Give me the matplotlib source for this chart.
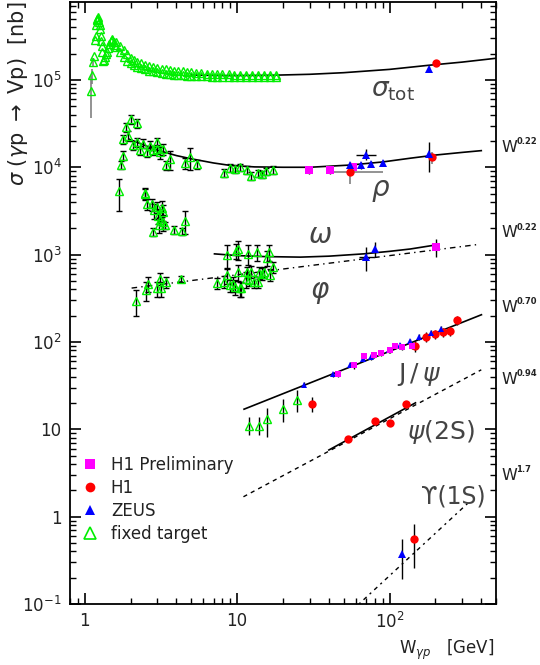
import matplotlib
matplotlib.use("Agg")
import matplotlib.pyplot as plt
from matplotlib.lines import Line2D
from matplotlib.ticker import LogLocator, FixedLocator, FixedFormatter, NullFormatter

# ---------------- total cross section ----------------
tot_ft_w = [1.10, 1.12, 1.13, 1.15, 1.17, 1.18, 1.19, 1.20, 1.21, 1.22, 1.23, 1.24,
            1.25, 1.26, 1.27, 1.28, 1.29, 1.30, 1.32, 1.34, 1.36, 1.38, 1.40, 1.42,
            1.45, 1.48, 1.50, 1.52, 1.55, 1.58]
tot_ft_s = [0.75e5, 1.13e5, 1.6e5, 1.9e5, 2.9e5, 3.2e5, 4.3e5, 4.8e5, 5.0e5, 5.2e5,
            5.0e5, 4.6e5, 4.3e5, 3.8e5, 3.2e5, 2.8e5, 2.46e5, 2.1e5, 1.66e5, 1.7e5,
            1.85e5, 1.97e5, 2.1e5, 2.3e5, 2.6e5, 2.8e5, 2.93e5, 2.85e5, 2.7e5, 2.5e5]
tot_ft_lo = [3.7e4, 0.9e5, 1.45e5]
tot_ft_hi = [1.1e5, 1.35e5, 1.8e5]

band_w = [1.60, 1.70, 1.80, 1.90, 2.00, 2.10, 2.20, 2.35, 2.50, 2.65, 2.80, 3.00,
          3.20, 3.40, 3.60, 3.85, 4.10, 4.40, 4.70, 5.00, 5.40, 5.80, 6.30, 6.80,
          7.40, 8.00, 8.80, 9.60, 10.5, 11.5, 12.5, 13.7, 15.0, 16.5, 18.0]
band_up = [2.75e5, 2.45e5, 2.2e5, 2.0e5, 1.8e5, 1.7e5, 1.62e5, 1.55e5, 1.5e5, 1.45e5,
           1.42e5, 1.38e5, 1.35e5, 1.33e5, 1.3e5, 1.28e5, 1.26e5, 1.25e5, 1.23e5,
           1.22e5, 1.2e5, 1.19e5, 1.18e5, 1.17e5, 1.17e5, 1.16e5, 1.16e5, 1.15e5,
           1.15e5, 1.15e5, 1.14e5, 1.14e5, 1.14e5, 1.14e5, 1.14e5]
band_lo = [2.4e5, 2.1e5, 1.85e5, 1.65e5, 1.55e5, 1.48e5, 1.42e5, 1.36e5, 1.32e5, 1.28e5,
           1.25e5, 1.22e5, 1.2e5, 1.18e5, 1.16e5, 1.15e5, 1.14e5, 1.13e5, 1.12e5,
           1.11e5, 1.1e5, 1.1e5, 1.1e5, 1.09e5, 1.09e5, 1.09e5, 1.09e5, 1.09e5,
           1.09e5, 1.09e5, 1.09e5, 1.09e5, 1.09e5, 1.09e5, 1.09e5]

tot_fit_w = [5, 7, 9, 12, 16.5, 30, 50, 100, 180, 300, 500]
tot_fit_s = [1.14e5, 1.125e5, 1.12e5, 1.125e5, 1.13e5, 1.16e5, 1.21e5, 1.32e5, 1.47e5,
             1.6e5, 1.77e5]

tot_h1_w, tot_h1_s = [201], [1.58e5]
tot_zeus_w, tot_zeus_s = [182], [1.35e5]

# ---------------- rho ----------------
rho_ft_w = [1.68, 1.74, 1.79, 1.77, 1.86, 1.93, 2.00, 2.21, 2.08, 2.19, 2.30, 2.42,
            2.55, 2.68, 2.81, 2.96, 2.96, 3.11, 3.27, 3.41, 3.62, 4.54, 4.90, 5.42,
            8.2, 9.0, 9.7, 10.5, 11.6, 12.3, 13.8, 14.5, 15.4, 17.2]
rho_ft_s = [5.3e3, 1.06e4, 1.36e4, 2.11e4, 2.87e4, 2.3e4, 3.57e4, 3.2e4, 1.8e4, 1.93e4,
            1.58e4, 1.87e4, 1.48e4, 1.77e4, 1.58e4, 1.62e4, 1.93e4, 1.48e4, 1.62e4,
            1.06e4, 1.24e4, 1.11e4, 1.3e4, 1.09e4, 8.6e3, 9.8e3, 9.6e3, 1.0e4, 9.4e3,
            8.0e3, 8.5e3, 8.3e3, 9.0e3, 9.3e3]
rho_ft_err = [0.4, 0.1, 0.12, 0.12, 0.12, 0.12, 0.12, 0.12, 0.12, 0.12, 0.12, 0.12,
              0.12, 0.12, 0.12, 0.12, 0.12, 0.15, 0.15, 0.12, 0.25, 0.15, 0.28, 0.12,
              0.1, 0.1, 0.1, 0.1, 0.1, 0.1, 0.1, 0.1, 0.1, 0.1]

rho_fit_w = [1.95, 2.5, 3, 4, 5, 7, 9, 13, 20, 30, 55, 90, 137, 200, 300, 400]
rho_fit_s = [2.1e4, 1.77e4, 1.57e4, 1.36e4, 1.25e4, 1.12e4, 1.05e4, 1.01e4, 1.0e4,
             1.0e4, 1.06e4, 1.15e4, 1.27e4, 1.38e4, 1.48e4, 1.55e4]

rho_h1p_w = [29.8, 40.9, 57.3]
rho_h1p_s = [9.3e3, 9.3e3, 1.0e4]
rho_h1_w = [54.8, 189]
rho_h1_s = [8.77e3, 1.3e4]
rho_h1_lo = [6.5e3, 1.1e4]
rho_h1_hi = [1.1e4, 1.5e4]
rho_h1_wlo = [43, 185]
rho_h1_whi = [91, 193]
rho_zeus_w = [55.4, 65.4, 70.6, 75.7, 90.8, 182]
rho_zeus_s = [1.05e4, 1.05e4, 1.4e4, 1.09e4, 1.12e4, 1.42e4]
rho_zeus_lo = [9.5e3, 9.5e3, 1.2e4, 1.0e4, 1.03e4, 8.9e3]
rho_zeus_hi = [1.15e4, 1.15e4, 1.6e4, 1.18e4, 1.21e4, 1.97e4]
rho_zeus_wlo = [55.4, 65.4, 60.6, 75.7, 90.8, 175]
rho_zeus_whi = [55.4, 65.4, 81.0, 75.7, 90.8, 190]

# ---------------- omega ----------------
omega_ft_w = [2.48, 2.50, 2.55, 2.75, 2.84, 2.96, 3.04, 3.19, 3.24, 3.11, 3.27, 3.08,
              2.79, 3.36, 3.86, 4.33, 4.54, 8.55, 10.06, 11.7, 13.5, 16.3, 15.6, 9.9]
omega_ft_s = [5.1e3, 4.9e3, 3.8e3, 3.75e3, 3.2e3, 3.5e3, 2.8e3, 3.4e3, 3.05e3, 2.46e3,
              2.35e3, 2.2e3, 1.81e3, 2.16e3, 1.92e3, 1.85e3, 2.45e3, 979, 1.15e3,
              1.02e3, 1.06e3, 1.06e3, 917, 1.1e3]
omega_ft_err = [0.15, 0.15, 0.15, 0.15, 0.2, 0.15, 0.2, 0.2, 0.2, 0.1, 0.2, 0.2, 0.1,
                0.1, 0.1, 0.1, 0.3, 0.3, 0.25, 0.25, 0.2, 0.2, 0.2, 0.2]

omega_fit_w = [7.1, 10, 15, 26, 40, 67.5, 100, 137, 201]
omega_fit_s = [1.02e3, 975, 950, 936, 960, 1.02e3, 1.09e3, 1.16e3, 1.29e3]

omega_zeus_w = [70.6, 80]
omega_zeus_s = [936, 1.16e3]
omega_zeus_lo = [656, 936]
omega_zeus_hi = [1.22e3, 1.39e3]
omega_zeus_wlo = [63, 80]
omega_zeus_whi = [79, 80]
omega_h1p_w, omega_h1p_s = [201], [1.22e3]
omega_h1p_lo, omega_h1p_hi = [936], [1.52e3]

# ---------------- phi ----------------
phi_ft_w = [2.17, 2.52, 2.60, 2.98, 3.11, 3.15, 3.39, 4.28, 7.35, 8.14, 8.55, 9.0,
            9.45, 9.7, 10.1, 10.5, 10.6, 11.4, 11.6, 11.9, 12.3, 12.9, 13.8, 14.0,
            14.5, 14.9, 16.5, 17.3]
phi_ft_s = [294, 390, 464, 410, 529, 410, 485, 529, 472, 490, 578, 444, 464, 430, 631,
            410, 410, 521, 631, 517, 640, 490, 483, 620, 607, 631, 590, 719]
phi_ft_err = [0.33, 0.25, 0.2, 0.2, 0.15, 0.2, 0.15, 0.08, 0.15, 0.15, 0.2, 0.15, 0.2,
              0.2, 0.2, 0.2, 0.2, 0.2, 0.15, 0.15, 0.15, 0.15, 0.15, 0.15, 0.15, 0.15,
              0.15, 0.15]
phi_fit_w = [2.03, 386]
phi_fit_s = [414, 1.31e3]

# ---------------- J/psi ----------------
jpsi_ft_w = [11.9, 14.0, 15.7, 20.0, 24.7]
jpsi_ft_s = [11.0, 11.0, 13.3, 17.3, 21.9]
jpsi_ft_lo = [8.6, 8.6, 8.2, 12.2, 15.8]
jpsi_ft_hi = [13.9, 13.9, 17.6, 22.5, 28.3]

jpsi_h1_w = [31, 148, 174, 198, 224, 249, 276]
jpsi_h1_s = [19.7, 89.3, 115, 124, 130, 132, 177]
jpsi_h1_err = [0.2, 0.15, 0.12, 0.12, 0.12, 0.12, 0.12]
jpsi_zeus_w = [27.6, 42.6, 55.4, 67, 76, 99, 118, 137, 156, 186, 219]
jpsi_zeus_s = [32.5, 42.7, 55, 64.5, 67.4, 80.4, 91.6, 102, 114, 128, 142]
jpsi_h1p_w = [46, 58.2, 68.5, 78.8, 88, 100.5, 109, 121, 141]
jpsi_h1p_s = [42.7, 54, 68.7, 71.6, 75.5, 81.7, 89.3, 87.7, 89.3]
jpsi_fit_w = [11.1, 401]
jpsi_fit_s = [17, 205]

# ---------------- psi(2S) ----------------
psi2s_h1_w = [53.5, 80, 100, 129]
psi2s_h1_s = [7.85, 12.4, 11.9, 19.4]
psi2s_fit_w = [11, 400]
psi2s_fit_s = [1.69, 48]
psi2s_fit_solid_w = [40, 148]
psi2s_fit_solid_s = [5.8, 20.1]

# ---------------- Upsilon ----------------
ups_zeus_w, ups_zeus_s = [120], [0.37]
ups_zeus_lo, ups_zeus_hi = [0.195], [0.55]
ups_h1_w, ups_h1_s = [144], [0.55]
ups_h1_lo, ups_h1_hi = [0.26], [0.83]
ups_fit_w = [63, 330]
ups_fit_s = [0.1, 1.45]

# power-law exponents written at the right edge
exponents = ["0.22", "0.22", "0.70", "0.94", "1.7"]

GREEN = "#00ee00"
MAG = "#ff00ff"
RED = "#ff0000"
BLUE = "#0000ff"


def asym(s, lo, hi):
    return [[a - b for a, b in zip(s, lo)], [b - a for a, b in zip(s, hi)]]


def rel(s, f):
    return [[a * e for a, e in zip(s, f)], [a * e for a, e in zip(s, f)]]


fig = plt.figure(figsize=(5.4, 6.65), dpi=100)
ax = fig.add_axes([0.1296, 0.0917, 0.789, 0.9053])
ax.set_xscale("log")
ax.set_yscale("log")
ax.set_xlim(0.8, 500)
ax.set_ylim(0.1, 7.8e5)

# fit curves
ax.plot(tot_fit_w, tot_fit_s, color="k", lw=1.2, zorder=3)
ax.plot(rho_fit_w, rho_fit_s, color="k", lw=1.2, zorder=3)
ax.plot(omega_fit_w, omega_fit_s, color="k", lw=1.2, zorder=3)
ax.plot(phi_fit_w, phi_fit_s, color="k", lw=1.0, ls=(0, (4, 3, 1, 3)), zorder=3)
ax.plot(jpsi_fit_w, jpsi_fit_s, color="k", lw=1.2, zorder=3)
ax.plot(psi2s_fit_w, psi2s_fit_s, color="k", lw=1.0, ls=(0, (3, 3)), zorder=3)
ax.plot(psi2s_fit_solid_w, psi2s_fit_solid_s, color="k", lw=1.2, zorder=3)
ax.plot(ups_fit_w, ups_fit_s, color="k", lw=1.0, ls=(0, (1.5, 3, 3, 3)), zorder=3)

ft = dict(fmt="^", ms=6, mfc="none", mec=GREEN, mew=1.0, ecolor="k", elinewidth=1.0,
          capsize=2.5, zorder=4)

# fixed target total cross section
ax.errorbar(tot_ft_w[:3], tot_ft_s[:3], yerr=asym(tot_ft_s[:3], tot_ft_lo, tot_ft_hi),
            fmt="none", ecolor="gray", elinewidth=1.2, zorder=2)
ax.plot(tot_ft_w, tot_ft_s, "^", ms=6, mfc="none", mec=GREEN, mew=1.0, zorder=4)
ax.plot(band_w, band_up, "^", ms=6, mfc="none", mec=GREEN, mew=1.0, zorder=4)
ax.plot(band_w, band_lo, "^", ms=6, mfc="none", mec=GREEN, mew=1.0, zorder=4)

ax.errorbar(rho_ft_w, rho_ft_s, yerr=rel(rho_ft_s, rho_ft_err), **ft)
ax.errorbar(omega_ft_w, omega_ft_s, yerr=rel(omega_ft_s, omega_ft_err), **ft)
ax.errorbar(phi_ft_w, phi_ft_s, yerr=rel(phi_ft_s, phi_ft_err), **ft)
ax.errorbar(jpsi_ft_w, jpsi_ft_s, yerr=asym(jpsi_ft_s, jpsi_ft_lo, jpsi_ft_hi),
            fmt="^", ms=6, mfc="none", mec=GREEN, mew=1.0, ecolor="k", elinewidth=1.0,
            capsize=0, zorder=4)

hera = dict(ecolor="k", elinewidth=1.0, capsize=2.5, zorder=5, mew=0)

# HERA total
ax.errorbar(tot_h1_w, tot_h1_s, yerr=rel(tot_h1_s, [0.06]), fmt="o", ms=6, color=RED, **hera)
ax.errorbar(tot_zeus_w, tot_zeus_s, yerr=rel(tot_zeus_s, [0.08]), fmt="^", ms=6, color=BLUE, **hera)

# HERA rho
ax.errorbar(rho_h1p_w, rho_h1p_s, yerr=rel(rho_h1p_s, [0.1, 0.1, 0.1]), fmt="s", ms=6,
            color=MAG, **hera)
ax.errorbar(rho_h1_w, rho_h1_s, yerr=asym(rho_h1_s, rho_h1_lo, rho_h1_hi),
            xerr=asym(rho_h1_w, rho_h1_wlo, rho_h1_whi), fmt="o", ms=6, color=RED,
            ecolor="gray", elinewidth=1.2, capsize=0, zorder=5, mew=0)
ax.errorbar(rho_zeus_w, rho_zeus_s, yerr=asym(rho_zeus_s, rho_zeus_lo, rho_zeus_hi),
            xerr=asym(rho_zeus_w, rho_zeus_wlo, rho_zeus_whi), fmt="^", ms=6, color=BLUE,
            ecolor="k", elinewidth=1.0, capsize=0, zorder=5, mew=0)

# HERA omega
ax.errorbar(omega_zeus_w, omega_zeus_s, yerr=asym(omega_zeus_s, omega_zeus_lo, omega_zeus_hi),
            xerr=asym(omega_zeus_w, omega_zeus_wlo, omega_zeus_whi), fmt="^", ms=6,
            color=BLUE, ecolor="k", elinewidth=1.0, capsize=0, zorder=5, mew=0)
ax.errorbar(omega_h1p_w, omega_h1p_s, yerr=asym(omega_h1p_s, omega_h1p_lo, omega_h1p_hi),
            fmt="s", ms=6, color=MAG, ecolor="k", elinewidth=1.0, capsize=0, zorder=5, mew=0)

# HERA J/psi
ax.errorbar(jpsi_h1_w, jpsi_h1_s, yerr=rel(jpsi_h1_s, jpsi_h1_err), fmt="o", ms=6,
            color=RED, **hera)
ax.errorbar(jpsi_zeus_w, jpsi_zeus_s, yerr=rel(jpsi_zeus_s, [0.07] * len(jpsi_zeus_s)),
            fmt="^", ms=5, color=BLUE, **hera)
ax.errorbar(jpsi_h1p_w, jpsi_h1p_s, yerr=rel(jpsi_h1p_s, [0.08] * len(jpsi_h1p_s)),
            fmt="s", ms=5, color=MAG, **hera)

# HERA psi(2S), Upsilon
ax.errorbar(psi2s_h1_w, psi2s_h1_s, yerr=rel(psi2s_h1_s, [0.08] * 4), fmt="o", ms=6,
            color=RED, **hera)
ax.errorbar(ups_zeus_w, ups_zeus_s, yerr=asym(ups_zeus_s, ups_zeus_lo, ups_zeus_hi),
            fmt="^", ms=6, color=BLUE, **hera)
ax.errorbar(ups_h1_w, ups_h1_s, yerr=asym(ups_h1_s, ups_h1_lo, ups_h1_hi),
            fmt="o", ms=6, color=RED, **hera)

# process labels
tc = "#444444"
ax.text(105, 7.6e4, r"$\sigma_{\rm tot}$", fontsize=19, ha="center", va="center", color=tc)
ax.text(87, 5.5e3, r"$\rho$", fontsize=20, ha="center", va="center", color=tc)
ax.text(35, 1.67e3, r"$\omega$", fontsize=20, ha="center", va="center", color=tc)
ax.text(35, 373, r"$\varphi$", fontsize=20, ha="center", va="center", color=tc)
ax.text(155, 42, r"J$\,/\,\psi$", fontsize=18, ha="center", va="center", color=tc)
ax.text(217, 9.4, r"$\psi$(2S)", fontsize=18, ha="center", va="center", color=tc)
ax.text(262, 1.69, "\u03d2(1S)", fontsize=17, ha="center", va="center", color=tc)

# axes styling
ax.xaxis.set_major_locator(FixedLocator([1, 10, 100]))
ax.xaxis.set_major_formatter(FixedFormatter(["1", "10", r"10$^2$"]))
ax.xaxis.set_minor_locator(LogLocator(base=10, subs=range(2, 10)))
ax.xaxis.set_minor_formatter(NullFormatter())
ax.yaxis.set_major_locator(FixedLocator([0.1, 1, 10, 100, 1e3, 1e4, 1e5]))
ax.yaxis.set_major_formatter(FixedFormatter([r"10$^{-1}$", "1", "10", r"10$^2$",
                                             r"10$^3$", r"10$^4$", r"10$^5$"]))
ax.yaxis.set_minor_locator(LogLocator(base=10, subs=range(2, 10)))
ax.yaxis.set_minor_formatter(NullFormatter())
ax.tick_params(which="both", direction="in", top=True, right=True, labelsize=12,
               colors="k", labelcolor="#222222")
ax.tick_params(which="major", length=8, width=1.2, pad=6)
ax.tick_params(which="minor", length=4, width=1.0)
for sp in ax.spines.values():
    sp.set_linewidth(1.3)

# exponents on the right: big W, small bold superscript
for y, lab in zip([148, 233, 307, 380, 475], exponents):
    fig.text(501 / 540, 1 - y / 665, "W", fontsize=11.5, ha="left", va="center",
             color="#222222")
    fig.text(516.5 / 540, 1 - (y - 6) / 665, lab, fontsize=6, fontweight="bold",
             ha="left", va="center", color="#222222")

fig.text(0.033, 0.997, r"$\sigma$ ($\gamma$p $\rightarrow$ Vp)  [nb]", rotation=90,
         ha="center", va="top", fontsize=15, color="#222222")
fig.text(494 / 540, 1 - 650 / 665, r"W$_{\gamma p}$   [GeV]", ha="right", va="center",
         fontsize=12, color="#222222")

handles = [
    Line2D([], [], ls="none", marker="s", ms=7, color=MAG, mew=0),
    Line2D([], [], ls="none", marker="o", ms=7, color=RED, mew=0),
    Line2D([], [], ls="none", marker="^", ms=7, color=BLUE, mew=0),
    Line2D([], [], ls="none", marker="^", ms=8, mfc="none", mec=GREEN, mew=1.2),
]
leg = ax.legend(handles, ["H1 Preliminary", "H1", "ZEUS", "fixed target"],
                loc="upper left", bbox_to_anchor=(0.0, 0.265), frameon=False,
                fontsize=12, handlelength=1.0, handletextpad=0.75, labelspacing=0.3,
                borderpad=0.2)
for t in leg.get_texts():
    t.set_color("#222222")

fig.savefig("out.png", dpi=100)
